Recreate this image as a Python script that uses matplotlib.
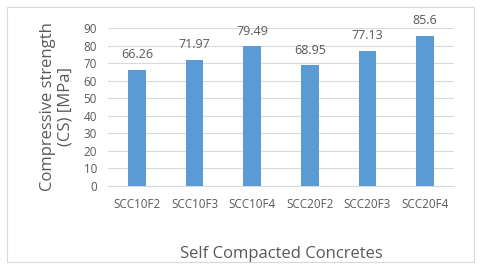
import matplotlib
matplotlib.use("Agg")
import matplotlib.pyplot as plt
from matplotlib.patches import Rectangle

# chart data
categories = ["SCC10F2", "SCC10F3", "SCC10F4", "SCC20F2", "SCC20F3", "SCC20F4"]
strength = [66.26, 71.97, 79.49, 68.95, 77.13, 85.6]
value_labels = ["66.26", "71.97", "79.49", "68.95", "77.13", "85.6"]
y_ticks = [0, 10, 20, 30, 40, 50, 60, 70, 80, 90]

plt.rcParams["font.family"] = ["Open Sans", "DejaVu Sans"]
text_grey = "#595959"

fig = plt.figure(figsize=(4.8, 2.67), dpi=100)
ax = fig.add_axes([108 / 480, 1 - 186 / 267, 346 / 480, 158 / 267])

x = range(len(categories))
bars = ax.bar(x, strength, width=0.31, color="#5B9BD5", zorder=3)
for b, lab in zip(bars, value_labels):
    ax.annotate(lab, (b.get_x() + b.get_width() / 2, b.get_height()),
                xytext=(0, 6), textcoords="offset points",
                ha="center", va="bottom", fontsize=9, color=text_grey)

ax.set_xlim(-0.5, len(categories) - 0.5)
ax.set_ylim(0, 90)
ax.set_yticks(y_ticks)
ax.set_xticks(list(x))
ax.set_xticklabels(categories)
ax.tick_params(axis="both", length=0, labelsize=8.4, colors=text_grey)
ax.tick_params(axis="x", pad=9)
ax.tick_params(axis="y", pad=8)
ax.yaxis.grid(True, color="#D9D9D9", linewidth=0.8, zorder=0)
for side in ["top", "right", "left"]:
    ax.spines[side].set_visible(False)
ax.spines["bottom"].set_color("#D9D9D9")

ax.set_ylabel("Compressive strength\n(CS) [MPa]", fontsize=12, color=text_grey,
              linespacing=1.1, labelpad=7)
ax.set_xlabel("Self Compacted Concretes", fontsize=12, color=text_grey, labelpad=25)

# outer chart border
fig.patches.append(Rectangle((7 / 480, 1 - 262 / 267), 467 / 480, 255 / 267,
                             transform=fig.transFigure, fill=False,
                             edgecolor="#D9D9D9", linewidth=0.8))

fig.savefig("out.png", dpi=100)
